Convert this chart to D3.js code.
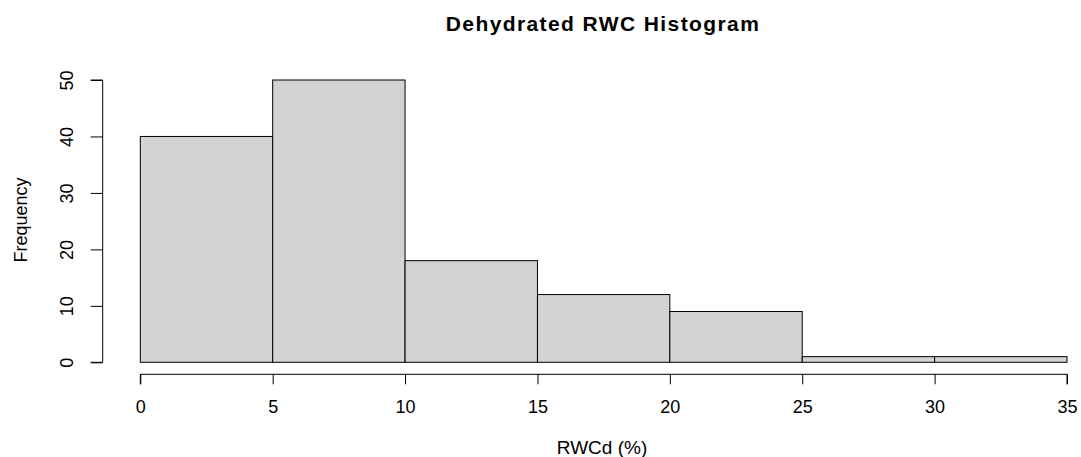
<!DOCTYPE html>
<html><head><meta charset="utf-8">
<script src="https://cdn.jsdelivr.net/npm/d3@7"></script>
<style>body{margin:0;background:#fff}svg{display:block}text{font-family:"Liberation Sans",Arial,sans-serif;fill:#000}</style>
</head><body><svg id="c" width="1081" height="457"></svg>
<script>
const binStarts = [0, 5, 10, 15, 20, 25, 30];
const binEnds = [5, 10, 15, 20, 25, 30, 35];
const counts = [40, 50, 18, 12, 9, 1, 1];
const xTicks = [0, 5, 10, 15, 20, 25, 30, 35];
const yTicks = [0, 10, 20, 30, 40, 50];
const title = "Dehydrated RWC Histogram";
const xLabel = "RWCd (%)";
const yLabel = "Frequency";

const svg = d3.select("#c");
const x = d3.scaleLinear().domain([0, 35]).range([140.3, 1067]);
const y = d3.scaleLinear().domain([0, 50]).range([362.3, 80]);

svg.selectAll("rect.bar").data(counts).enter().append("rect")
  .attr("x", (d,i)=>x(binStarts[i]))
  .attr("width", (d,i)=>x(binEnds[i])-x(binStarts[i]))
  .attr("y", d=>y(d))
  .attr("height", d=>y(0)-y(d))
  .attr("fill", "#d3d3d3").attr("stroke", "#000").attr("stroke-width", 1);

const xa = svg.append("g").attr("transform", "translate(0,374.3)")
  .call(d3.axisBottom(x).tickValues(xTicks).tickSize(10).tickPadding(16).tickFormat(d3.format("d")));
const ya = svg.append("g").attr("transform", "translate(102.7,0)")
  .call(d3.axisLeft(y).tickValues(yTicks).tickSize(12).tickPadding(0).tickFormat(d3.format("d")));
[xa, ya].forEach(a=>{
  a.select(".domain").attr("stroke","#000").attr("stroke-width",1);
  a.selectAll(".tick line").attr("stroke","#000");
  a.selectAll("text").style("font-size","18px").attr("fill","#000").style("font-family","'Liberation Sans',Arial,sans-serif");
});
xa.select(".domain").attr("d", `M${x(0)},10V0H${x(35)}V10`);
ya.select(".domain").attr("d", `M-12,${y(0)}H0V${y(50)}H-12`);
ya.selectAll(".tick text").attr("x", 0).attr("dy", null)
  .attr("text-anchor","middle").attr("dominant-baseline","central")
  .attr("transform", "translate(-36,0) rotate(-90)");

svg.append("text").attr("x", 603).attr("y", 31).attr("text-anchor","middle")
  .style("font-size","21px").style("font-weight","bold").style("letter-spacing","1.4px").text(title);
svg.append("text").attr("x", 602).attr("y", 454).attr("text-anchor","middle")
  .style("font-size","19px").text(xLabel);
svg.append("text").attr("transform","translate(27,220) rotate(-90)").attr("text-anchor","middle")
  .style("font-size","18px").text(yLabel);
</script></body></html>
